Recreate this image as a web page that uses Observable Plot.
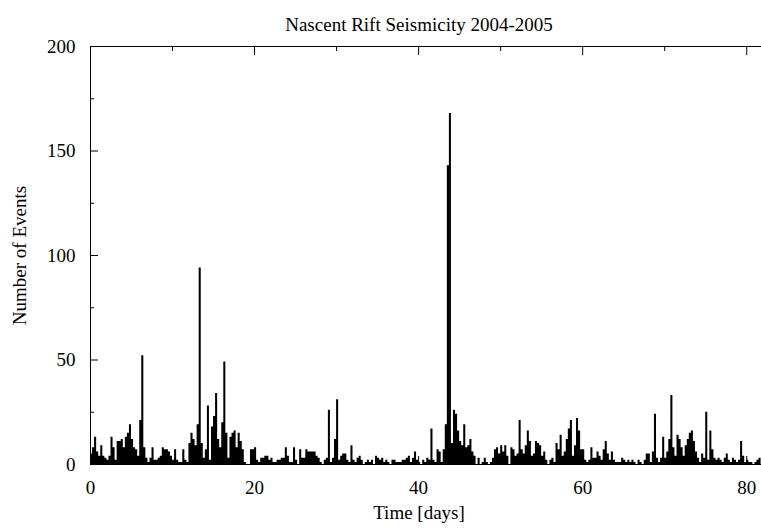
<!DOCTYPE html>
<html><head><meta charset="utf-8">
<script src="https://cdn.jsdelivr.net/npm/d3@7"></script>
<script src="https://cdn.jsdelivr.net/npm/@observablehq/plot@0.6"></script>
<style>body{margin:0;background:#fff} svg{display:block}</style>
</head><body><div id="chart"></div>
<script>
const title = "Nascent Rift Seismicity 2004-2005";
const xLabel = "Time [days]";
const yLabel = "Number of Events";
const binDays = 0.25; // each count covers 6 hours

// counts per 6-hour bin, in consecutive stretches
const countsDays0to13 = [5,8,13,6,4,9,4,3,2,4, 13,8,2,11,11,12,8,13,15,19, 12,8,7,4,21,52,8,3,1,3, 8,2,2,3,4,8,7,7,6,4, 2,7,2,1,1,7,2,1,10,15, 12,9,19,94];
const countsDays13to27 = [10,3,7,28,2,18,23,34,12,8, 20,49,15,3,13,15,16,8,15,11, 7,1,0,0,7,7,8,2,1,3, 3,4,4,2,3,1,1,2,2,3, 3,8,4,1,1,8,2,0,7,3, 3,7,6,6,6];
const countsDays27to40 = [6,4,3,1,0,2,3,26,1,3, 12,31,2,4,5,5,2,1,9,2, 1,3,4,2,0,1,2,1,2,0, 4,3,2,3,1,2,1,0,2,2, 1,1,1,2,2,3,4,1,3,6, 2,1,0,2];
const countsDays40to54 = [1,3,2,17,2,1,7,6,1,7, 19,143,168,10,26,24,16,11,9,19, 8,9,12,6,4,0,3,0,1,3, 1,0,1,3,7,8,5,9,6,9, 4,0,8,7,4,5,21,7,5,9, 16,11,4,5,11];
const countsDays54to68 = [10,9,4,6,2,0,2,3,1,10, 7,14,4,6,12,17,21,4,9,22, 16,7,7,2,1,2,8,3,3,6, 4,2,7,11,5,2,6,2,1,1, 1,3,2,1,2,1,2,1,0,2, 1,0,2,5];
const countsDays68to82 = [5,1,6,24,3,1,3,13,3,6, 12,33,8,4,14,12,8,4,9,12, 15,16,11,6,3,1,5,3,25,2, 16,7,3,2,3,2,1,3,5,2, 1,3,2,1,2,11,4,1,2,1, 1,0,1,2,3,0];

const xMajorTicks = [0, 20, 40, 60, 80];
const xMinorTicks = [10, 30, 50, 70];
const yMajorTicks = [0, 50, 100, 150, 200];
const yMinorTicks = [25, 75, 125, 175];

const counts = [...countsDays0to13, ...countsDays13to27, ...countsDays27to40,
                ...countsDays40to54, ...countsDays54to68, ...countsDays68to82];
const bins = counts.map((n, i) => ({t: i * binDays, n}));
bins.push({t: counts.length * binDays, n: counts[counts.length - 1]});

const chart = Plot.plot({
  width: 761, height: 531,
  marginLeft: 90, marginRight: 0, marginTop: 46, marginBottom: 67,
  style: {fontFamily: "'Liberation Serif', serif", fontSize: "19px", color: "black", background: "white", overflow: "visible"},
  x: {domain: [0, 81.8]},
  y: {domain: [0, 200]},
  marks: [
    Plot.areaY(bins, {x: "t", y: "n", curve: "step-after", fill: "black"}),
    Plot.ruleX([0], {stroke: "black"}),
    Plot.ruleY([0, 200], {stroke: "black"}),
    Plot.axisX({ticks: xMajorTicks, tickSize: 0, tickPadding: 16, label: null}),
    Plot.axisX({ticks: xMajorTicks, anchor: "bottom", tickSize: -8, text: null, label: null}),
    Plot.axisX({ticks: xMinorTicks, anchor: "bottom", tickSize: -4, text: null, label: null}),
    Plot.axisX({ticks: xMajorTicks, anchor: "top", tickSize: -8, text: null, label: null}),
    Plot.axisX({ticks: xMinorTicks, anchor: "top", tickSize: -4, text: null, label: null}),
    Plot.axisY({ticks: yMajorTicks, tickSize: 0, tickPadding: 15, label: null}),
    Plot.axisY({ticks: yMajorTicks, anchor: "left", tickSize: -8, text: null, label: null}),
    Plot.axisY({ticks: yMinorTicks, anchor: "left", tickSize: -4, text: null, label: null}),
    Plot.text([title], {frameAnchor: "top", dy: -29, dx: -7}),
    Plot.text([xLabel], {frameAnchor: "bottom", dy: 54, dx: -7}),
    Plot.text([yLabel], {frameAnchor: "left", textAnchor: "middle", dx: -71, rotate: -90})
  ]
});
document.getElementById("chart").appendChild(chart);
</script>
</body></html>
